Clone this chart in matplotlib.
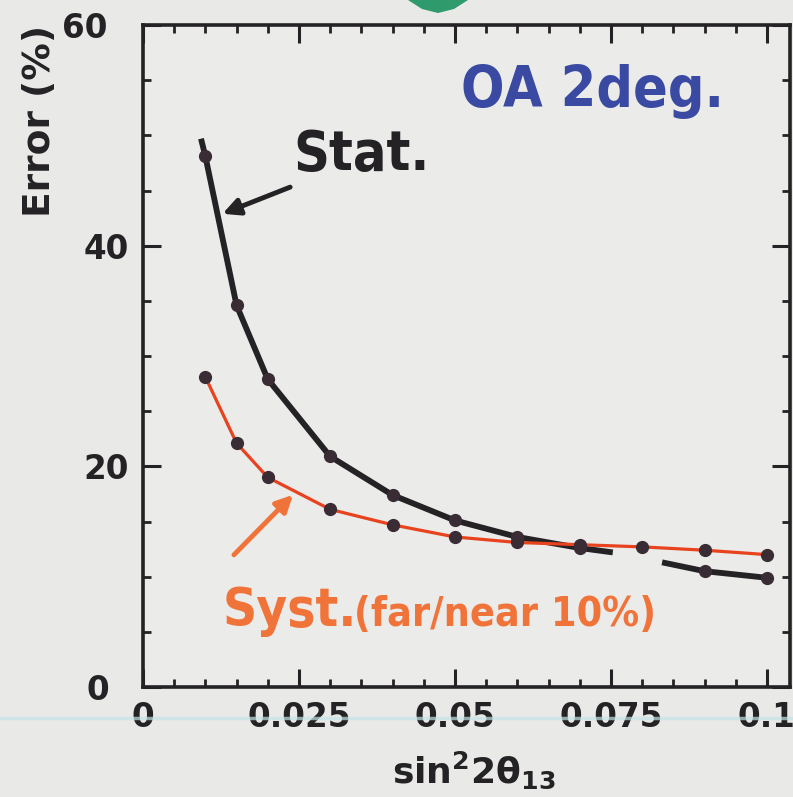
import matplotlib
matplotlib.use("Agg")
import matplotlib.pyplot as plt
import matplotlib.transforms as mtransforms
from matplotlib.patches import Polygon
from matplotlib.lines import Line2D
import numpy as np

# statistical error (black) - points with markers
stat_x = [0.01, 0.015, 0.02, 0.03, 0.04, 0.05, 0.06, 0.07, 0.09, 0.1]
stat_y = [48.1, 34.6, 27.9, 20.9, 17.4, 15.1, 13.6, 12.6, 10.5, 9.9]
# drawn curve for the stat. error, broken where it passes under the red curve
stat_line1_x = [0.0093, 0.01, 0.015, 0.02, 0.03, 0.04, 0.05, 0.06, 0.07, 0.0753]
stat_line1_y = [49.7, 48.1, 34.6, 27.9, 20.9, 17.4, 15.1, 13.6, 12.6, 12.2]
stat_line2_x = [0.0832, 0.09, 0.1]
stat_line2_y = [11.3, 10.5, 9.9]

# systematic error (far/near 10%)
syst_x = [0.01, 0.015, 0.02, 0.03, 0.04, 0.05, 0.06, 0.07, 0.08, 0.09, 0.1]
syst_y = [28.1, 22.1, 19.0, 16.1, 14.7, 13.6, 13.1, 12.9, 12.7, 12.4, 12.0]

x_ticks = [0, 0.025, 0.05, 0.075, 0.1]
x_ticklabels = ["0", "0.025", "0.05", "0.075", "0.1"]
y_ticks = [0, 20, 40, 60]
y_ticklabels = ["0", "20", "40", "60"]

bg = "#e9e9e8"
ink = "#242224"
red = "#e8421e"
orange = "#f0743a"
blue = "#3a4aa2"
dot = "#3a2c34"

fig = plt.figure(figsize=(7.93, 7.97), dpi=100, facecolor=bg)
ax = fig.add_axes([0.1803, 0.138, 0.8159, 0.8306], facecolor="#ebebea")

# leftover bits of the slide around the plot
fig.patches.append(Polygon([[408, 797], [468, 797], [454, 788], [438, 784], [422, 788]],
                           closed=True, transform=None, facecolor="#2f9a6c",
                           edgecolor="none"))
fig.lines.append(Line2D([0, 1], [0.099, 0.099], transform=fig.transFigure,
                        color="#c4e4e7", lw=2.5, alpha=0.7))

ax.plot(syst_x, syst_y, color=red, lw=2.3, zorder=3)
ax.plot(syst_x, syst_y, ls="none", marker="o", ms=8.5, color=dot, zorder=4)
ax.plot(stat_line1_x, stat_line1_y, color=ink, lw=4.2, solid_capstyle="butt", zorder=2)
ax.plot(stat_line2_x, stat_line2_y, color=ink, lw=4.2, solid_capstyle="butt", zorder=2)
ax.plot(stat_x, stat_y, ls="none", marker="o", ms=8.5, color=dot, zorder=2.5)

ax.set_xlim(0, 0.1037)
ax.set_ylim(0, 60)

ax.set_xticks(x_ticks)
ax.set_xticklabels(x_ticklabels)
ax.set_yticks(y_ticks)
ax.set_yticklabels(y_ticklabels)
ax.set_xticks(np.arange(0, 0.1037, 0.005), minor=True)
ax.set_yticks(np.arange(0, 61, 5), minor=True)

ax.tick_params(which="both", direction="in", top=True, right=True, color=ink)
ax.tick_params(which="major", length=13, width=2.2, pad=10)
ax.tick_params(which="minor", length=6, width=2)
for lab in ax.get_xticklabels() + ax.get_yticklabels():
    lab.set_fontweight("bold")
    lab.set_fontsize(23.5)
    lab.set_color(ink)

# the y labels were placed by hand on the slide
y_shift = {"0": -20, "20": 0, "40": 0, "60": -22}
for lab in ax.get_yticklabels():
    dx = y_shift.get(lab.get_text(), 0)
    lab.set_transform(lab.get_transform() +
                      mtransforms.ScaledTranslation(dx / 100, 0, fig.dpi_scale_trans))

for sp in ax.spines.values():
    sp.set_linewidth(2.6)
    sp.set_color(ink)

ax.set_ylabel("Error (%)", fontsize=27, fontweight="bold", color=ink)
ax.yaxis.set_label_coords(-0.132, 0.855)
ax.set_xlabel(r"$\mathbf{sin^2 2\theta_{13}}$", fontsize=26, color=ink)
ax.xaxis.set_label_coords(0.512, -0.095)

narrow = dict(fontfamily="DejaVu Sans", fontstretch="condensed", fontweight="bold")
ax.text(0.0721, 54.0, "OA 2deg.", color=blue, fontsize=41, ha="center",
        va="center", **narrow)
ax.text(0.0351, 48.2, "Stat.", color=ink, fontsize=40, ha="center",
        va="center", **narrow)
ax.annotate("", xy=(0.01234, 42.8), xytext=(0.0240, 45.4),
            arrowprops=dict(arrowstyle="-|>,head_length=1.0,head_width=0.5",
                            color=ink, lw=3.5))

ax.text(0.0127, 5.5, "Syst.", color=orange, fontsize=38, ha="left",
        va="baseline", **narrow)
ax.text(0.0338, 5.5, "(far/near 10%)", color=orange, fontsize=29.5, ha="left",
        va="baseline", **narrow)
ax.annotate("", xy=(0.02436, 17.6), xytext=(0.01426, 11.8),
            arrowprops=dict(arrowstyle="-|>,head_length=1.0,head_width=0.5",
                            color=orange, lw=3.5))

fig.savefig("out.png", dpi=100, facecolor=bg)
